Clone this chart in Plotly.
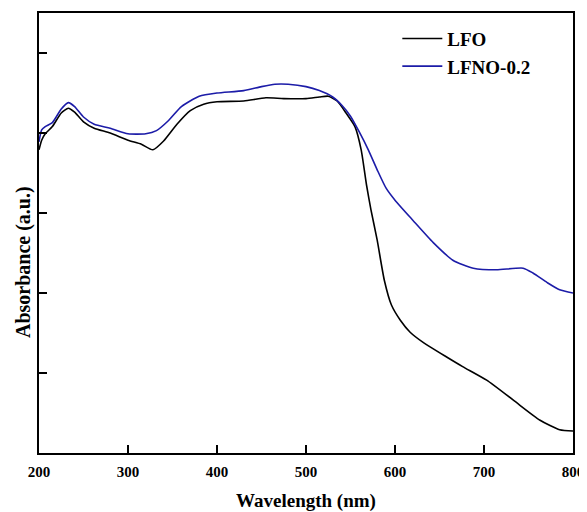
import plotly.graph_objects as go

# Wavelength (nm) and absorbance (a.u.)
lfo_wl = [200, 203, 207, 215, 225, 233, 240, 250, 262, 280, 300, 315, 328, 340, 355, 370,
          385, 400, 430, 455, 475, 500, 515, 525, 535, 545, 555, 562, 568, 573, 580, 588,
          596, 606, 617, 632, 658, 676, 703, 733, 763, 785, 800]
lfo_abs = [3.79, 3.91, 3.99, 4.08, 4.25, 4.31, 4.26, 4.14, 4.06, 4.00, 3.91, 3.86, 3.79, 3.90,
           4.11, 4.28, 4.36, 4.39, 4.40, 4.44, 4.43, 4.43, 4.45, 4.46, 4.40, 4.25, 4.08, 3.79,
           3.35, 3.04, 2.66, 2.16, 1.85, 1.66, 1.51, 1.38, 1.20, 1.08, 0.91, 0.66, 0.41, 0.29,
           0.275]

lfno_wl = [200, 203, 207, 215, 225, 233, 240, 250, 262, 280, 300, 320, 332, 345, 360, 380,
           400, 430, 450, 465, 480, 500, 515, 530, 540, 550, 560, 570, 580, 590, 600, 620,
           643, 665, 688, 714, 744, 755, 771, 785, 800]
lfno_abs = [3.89, 4.04, 4.08, 4.13, 4.30, 4.38, 4.33, 4.20, 4.11, 4.06, 3.99, 3.99, 4.03, 4.15,
            4.33, 4.46, 4.50, 4.53, 4.58, 4.61, 4.61, 4.58, 4.53, 4.45, 4.35, 4.21, 4.01, 3.79,
            3.54, 3.31, 3.16, 2.91, 2.63, 2.41, 2.31, 2.29, 2.31, 2.25, 2.13, 2.04, 2.00]

x_ticks = [200, 300, 400, 500, 600, 700, 800]
y_ticks = [1, 2, 3, 4, 5]

FONT = "Liberation Serif"

fig = go.Figure()
fig.add_trace(go.Scatter(x=lfo_wl, y=lfo_abs, mode="lines", name="<b>LFO</b>",
                         line=dict(color="#000000", width=1.6, shape="spline", smoothing=0.6)))
fig.add_trace(go.Scatter(x=lfno_wl, y=lfno_abs, mode="lines", name="<b>LFNO-0.2</b>",
                         line=dict(color="#1c1ca8", width=1.6, shape="spline", smoothing=0.6)))

# the page body adds an 8px offset, so the figure is sized to fit the window
fig.update_layout(
    width=579, height=504,
    margin=dict(l=31, r=14, t=5, b=59),
    paper_bgcolor="white", plot_bgcolor="white",
    font=dict(family=FONT, color="black"),
    showlegend=True,
    legend=dict(x=0.671, y=0.985, xanchor="left", yanchor="top",
                bgcolor="rgba(0,0,0,0)", font=dict(family=FONT, size=19, color="black"),
                tracegroupgap=0, itemwidth=40),
    xaxis=dict(range=[200, 800], tickvals=x_ticks, ticktext=[f"<b>{v}</b>" for v in x_ticks],
               ticks="inside", ticklen=8, tickwidth=2, tickcolor="black",
               showline=True, linewidth=2, linecolor="black", mirror=True,
               showgrid=False, zeroline=False, automargin=False, ticklabelstandoff=4,
               tickfont=dict(family=FONT, size=15, color="black"),
               title=dict(text="<b>Wavelength (nm)</b>", font=dict(family=FONT, size=19, color="black"),
                          standoff=15)),
    yaxis=dict(range=[0, 5.5], tickvals=y_ticks, showticklabels=False,
               ticks="inside", ticklen=8, tickwidth=2, tickcolor="black",
               showline=True, linewidth=2, linecolor="black", mirror=True,
               showgrid=False, zeroline=False, automargin=False),
    annotations=[dict(text="<b>Absorbance (a.u.)</b>", textangle=-90,
                      xref="paper", yref="paper", x=-0.030, y=0.434,
                      xanchor="center", yanchor="middle", showarrow=False,
                      font=dict(family=FONT, size=20, color="black"))],
)

fig.write_html("out.html")
